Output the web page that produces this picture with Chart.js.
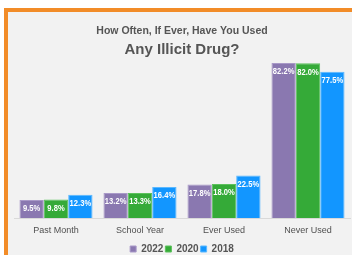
<!DOCTYPE html>
<html><head><meta charset="utf-8">
<script src="https://cdn.jsdelivr.net/npm/chart.js@4"></script>
<style>
html,body{margin:0;padding:0;background:#fff;overflow:hidden;width:352px;height:255px;}
#panel{position:absolute;left:4px;top:8px;width:344px;height:243px;border-left:4px solid #f28c28;border-top:4px solid #f28c28;background:#f2f2f2;}
#wrap{position:absolute;left:8px;top:12px;width:344px;height:252px;}
</style></head><body>
<div id="panel"></div>
<div id="wrap"><canvas id="c" width="344" height="252"></canvas></div>
<script>
const categories = ["Past Month", "School Year", "Ever Used", "Never Used"];
const seriesNames = ["2022", "2020", "2018"];
const values2022 = [9.5, 13.2, 17.8, 82.2];
const values2020 = [9.8, 13.3, 18.0, 82.0];
const values2018 = [12.3, 16.4, 22.5, 77.5];
const colors = ["#8a78b0", "#35aa38", "#1296ff"];
const borders = ["#a999c8", "#5cc15c", "#5ab8ff"];
const FONT = '"Liberation Sans", Arial, sans-serif';

const labelPlugin = {
  id: 'barLabels',
  afterDatasetsDraw(chart) {
    const ctx = chart.ctx;
    chart.data.datasets.forEach((ds, i) => {
      const meta = chart.getDatasetMeta(i);
      meta.data.forEach((bar, j) => {
        ctx.save();
        ctx.fillStyle = '#ffffff';
        ctx.font = 'bold 9.5px ' + FONT;
        ctx.textAlign = 'center';
        ctx.textBaseline = 'top';
        ctx.translate(bar.x, bar.y + 4);
        ctx.scale(0.8, 1);
        ctx.fillText(ds.data[j].toFixed(1) + '%', 0, 0);
        ctx.restore();
      });
    });
  }
};

new Chart(document.getElementById('c'), {
  type: 'bar',
  data: {
    labels: categories,
    datasets: [
      {label: seriesNames[0], data: values2022, backgroundColor: colors[0], borderColor: borders[0], borderWidth: 1},
      {label: seriesNames[1], data: values2020, backgroundColor: colors[1], borderColor: borders[1], borderWidth: 1},
      {label: seriesNames[2], data: values2018, backgroundColor: colors[2], borderColor: borders[2], borderWidth: 1}
    ]
  },
  options: {
    responsive: false,
    animation: false,
    devicePixelRatio: 1,
    layout: {padding: {left: 6, right: 2, top: 0, bottom: 0}},
    datasets: {bar: {categoryPercentage: 0.87, barPercentage: 1.0}},
    scales: {
      x: {
        grid: {display: false},
        border: {display: true, color: '#d9d9d9', width: 1},
        ticks: {color: '#505050', font: {size: 9, family: FONT}, padding: -1},
        afterFit(scale) { scale.height = 24; }
      },
      y: {display: false, min: 0, max: 84}
    },
    plugins: {
      title: {display: true, text: 'How Often, If Ever, Have You Used', color: '#555555',
        font: {size: 10.5, weight: 'bold', family: FONT}, padding: {top: 13, bottom: 0}},
      subtitle: {display: true, text: 'Any Illicit Drug?', color: '#555555',
        font: {size: 15, weight: 'bold', family: FONT}, padding: {top: 3, bottom: 1}},
      legend: {position: 'bottom', labels: {boxWidth: 6, boxHeight: 6, padding: 2, color: '#555555',
        font: {size: 10, weight: 'bold', family: FONT}}},
      tooltip: {enabled: false}
    }
  },
  plugins: [labelPlugin]
});
</script>
</body></html>
